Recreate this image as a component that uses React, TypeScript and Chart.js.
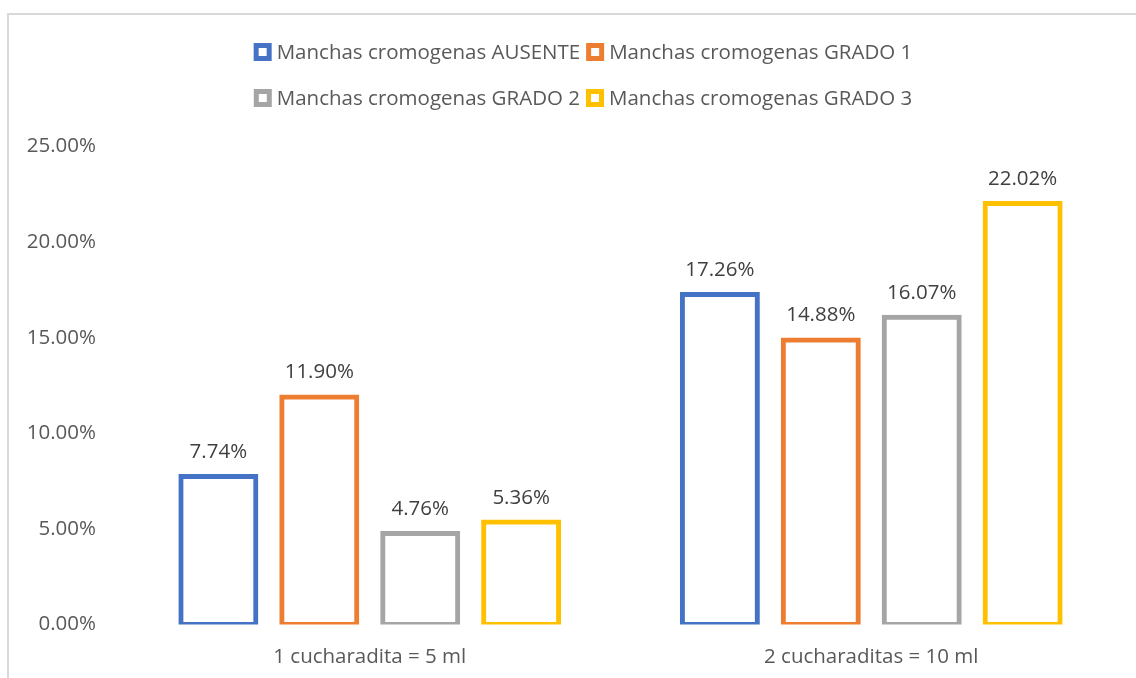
import React, { useEffect, useRef } from "react";
import { Chart, registerables } from "chart.js";

Chart.register(...registerables);

const categories = ["1 cucharadita = 5 ml", "2 cucharaditas = 10 ml"];
const seriesNames = [
  "Manchas cromogenas AUSENTE",
  "Manchas cromogenas GRADO 1",
  "Manchas cromogenas GRADO 2",
  "Manchas cromogenas GRADO 3",
];
const ausente = [7.74, 17.26];
const grado1 = [11.9, 14.88];
const grado2 = [4.76, 16.07];
const grado3 = [5.36, 22.02];
const seriesColors = ["#4472C4", "#ED7D31", "#A5A5A5", "#FFC000"];
const yTicks = [0, 5, 10, 15, 20, 25];

const FONT = '"Open Sans", sans-serif';
const FS = 20.5;
const TEXT = "#595959";
const LABEL = "#404040";

const legendPlugin = {
  id: "excelLegend",
  afterDraw(chart: any) {
    const ctx = chart.ctx;
    ctx.save();
    ctx.font = `${FS}px ${FONT}`;
    const items = chart.data.datasets.map((ds: any) => ({ label: ds.label, color: ds.borderColor }));
    const rows = [items.slice(0, 2), items.slice(2, 4)];
    const rowY = [38, 84];
    const box = 18, boxGap = 5, itemGap = 6, bw = 5;
    rows.forEach((row: any[], r: number) => {
      const widths = row.map((it) => box + boxGap + ctx.measureText(it.label).width);
      const total = widths.reduce((a, b) => a + b, 0) + itemGap * (row.length - 1);
      let x = chart.width / 2 - total / 2;
      row.forEach((it, i) => {
        const cy = rowY[r];
        ctx.fillStyle = it.color;
        ctx.fillRect(x, cy - box / 2, box, box);
        ctx.fillStyle = "#ffffff";
        ctx.fillRect(x + bw, cy - box / 2 + bw, box - 2 * bw, box - 2 * bw);
        ctx.fillStyle = TEXT;
        ctx.textBaseline = "middle";
        ctx.textAlign = "left";
        ctx.fillText(it.label, x + box + boxGap, cy + 1);
        x += widths[i] + itemGap;
      });
    });
    ctx.restore();
  },
};

const valueLabelPlugin = {
  id: "valueLabels",
  afterDatasetsDraw(chart: any) {
    const ctx = chart.ctx;
    ctx.save();
    ctx.font = `${FS}px ${FONT}`;
    ctx.fillStyle = LABEL;
    ctx.textAlign = "center";
    ctx.textBaseline = "alphabetic";
    chart.data.datasets.forEach((ds: any, di: number) => {
      const meta = chart.getDatasetMeta(di);
      meta.data.forEach((el: any, i: number) => {
        const v = ds.data[i];
        ctx.fillText(v.toFixed(2) + "%", el.x, el.y - 18.5);
      });
    });
    ctx.restore();
  },
};

export default function App() {
  const ref = useRef<HTMLCanvasElement>(null);
  useEffect(() => {
    if (!ref.current) return;
    const values = [ausente, grado1, grado2, grado3];
    const chart = new Chart(ref.current, {
      type: "bar",
      data: {
        labels: categories,
        datasets: values.map((d, i) => ({
          label: seriesNames[i],
          data: d,
          backgroundColor: "#ffffff",
          borderColor: seriesColors[i],
          borderWidth: 5,
          inflateAmount: 2.5,
          borderSkipped: false,
          categoryPercentage: 0.805,
          barPercentage: 0.743,
        })),
      },
      options: {
        responsive: false,
        animation: false,
        devicePixelRatio: 1,
        layout: { padding: { top: 132.5, right: 36, left: 0, bottom: 0 } },
        plugins: {
          legend: { display: false },
          tooltip: { enabled: false },
        },
        scales: {
          x: {
            grid: { display: false, drawTicks: false },
            border: { display: false },
            ticks: { color: TEXT, font: { family: FONT, size: FS }, padding: 20 },
            afterFit: (s: any) => {
              s.height = 53.5;
            },
          },
          y: {
            min: 0,
            max: 25,
            grid: { display: false, drawTicks: false },
            border: { display: false },
            ticks: {
              stepSize: 5,
              color: TEXT,
              font: { family: FONT, size: FS },
              padding: 23,
              callback: (v: any) => Number(v).toFixed(2) + "%",
            },
            afterBuildTicks: (s: any) => {
              s.ticks = yTicks.map((v) => ({ value: v }));
            },
            afterFit: (s: any) => {
              s.width = 111;
            },
          },
        },
      },
      plugins: [legendPlugin, valueLabelPlugin],
    });
    return () => chart.destroy();
  }, []);

  return (
    <div style={{ position: "fixed", left: 0, top: 0, width: 1136, height: 678, overflow: "hidden", background: "#fff" }}>
      <div
        style={{
          position: "absolute",
          left: 7,
          top: 13,
          width: 1200,
          height: 720,
          border: "2px solid #d9d9d9",
        }}
      />
      <canvas
        ref={ref}
        width={1150}
        height={664}
        style={{ position: "absolute", left: 8, top: 14, width: 1150, height: 664, display: "block" }}
      />
    </div>
  );
}
